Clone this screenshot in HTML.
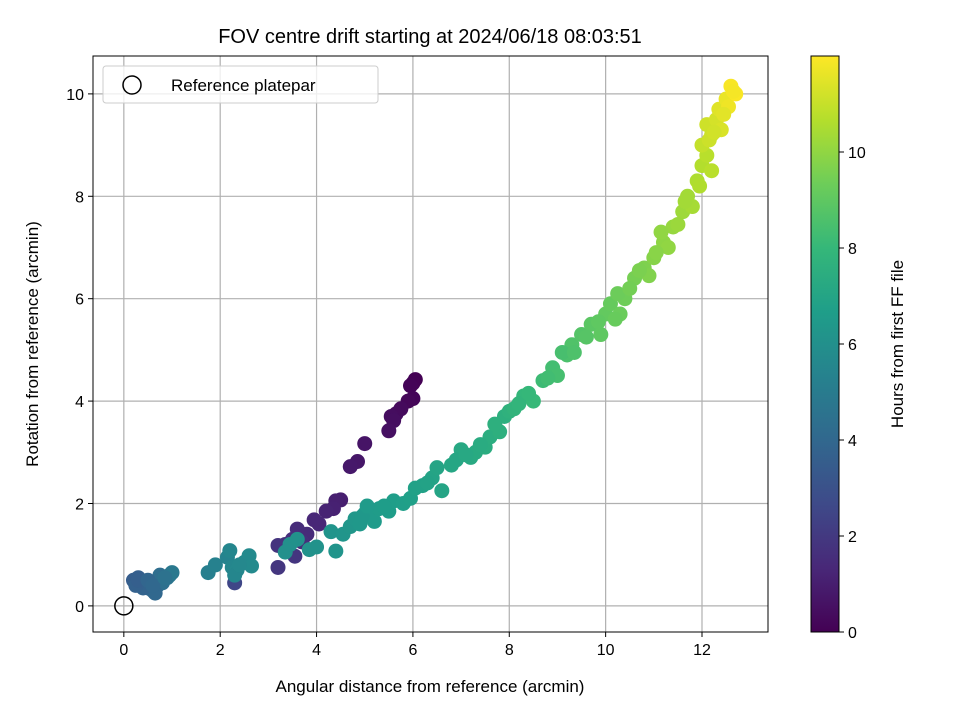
<!DOCTYPE html>
<html><head><meta charset="utf-8"><style>
body{margin:0;background:#fff}
svg text{font-family:"Liberation Sans","DejaVu Sans",sans-serif;fill:#000}
</style></head><body>
<svg id="chart" width="960" height="720" viewBox="0 0 960 720" xmlns="http://www.w3.org/2000/svg">
<defs><linearGradient id="vir" x1="0" y1="1" x2="0" y2="0"></linearGradient></defs>
<rect width="960" height="720" fill="#fff"/>
<text x="430" y="43" font-size="20" text-anchor="middle">FOV centre drift starting at 2024/06/18 08:03:51</text>
<g id="grid"></g>
<g id="points"></g>
<g id="axes"></g>
<text x="430" y="692" font-size="17" text-anchor="middle">Angular distance from reference (arcmin)</text>
<text transform="translate(38,344) rotate(-90)" font-size="17" text-anchor="middle">Rotation from reference (arcmin)</text>
<g>
<rect x="103" y="66" width="275" height="37" rx="3" fill="#fff" fill-opacity="0.8" stroke="#ccc"/>
<circle cx="132" cy="85" r="9" fill="none" stroke="#000" stroke-width="1.5"/>
<text x="171" y="91" font-size="17">Reference platepar</text>
</g>
<g id="cbar"></g>
<text transform="translate(903,344) rotate(-90)" font-size="17" text-anchor="middle">Hours from first FF file</text>
</svg>
<script>
const xs=[6.05,6.0,5.95,6.0,5.9,5.75,5.65,5.55,5.6,5.5,5.0,4.85,4.7,4.5,4.4,4.35,4.2,4.05,3.95,3.8,3.6,3.7,3.5,3.35,3.2,3.2,3.55,2.3,
0.2,0.3,0.35,0.45,0.5,0.6,0.55,0.7,0.75,0.8,0.9,0.95,1.0,0.65,0.4,0.25,0.3,0.5,0.6,0.85,
1.75,1.9,2.15,2.2,2.25,2.35,2.5,2.6,2.65,2.3,2.4,
3.35,3.45,3.6,3.85,4.0,4.3,4.4,4.55,4.7,4.8,4.9,5.0,5.1,5.2,5.3,5.5,5.6,5.8,5.95,6.05,6.2,6.4,6.5,6.6,6.8,7.0,7.2,7.3,7.5,7.6,7.8,7.9,8.0,8.1,8.3,8.5,8.7,8.9,9.0,9.2,9.3,9.5,9.7,9.9,10.0,10.1,10.3,10.4,10.6,10.8,10.9,11.0,11.2,11.3,11.4,11.6,11.7,11.8,11.9,12.0,12.1,12.2,12.0,12.1,12.3,12.35,12.5,12.6,12.7,12.2,12.4,12.55,
4.95,5.05,5.4,6.3,6.9,7.1,7.4,7.7,8.2,8.4,8.8,9.1,9.35,9.6,9.85,10.2,10.25,10.5,10.7,11.05,11.15,11.5,11.65,11.95,12.15,12.25,12.45,12.65];
const ys=[4.42,4.35,4.3,4.05,4.0,3.85,3.75,3.7,3.62,3.42,3.17,2.82,2.72,2.07,2.05,1.9,1.85,1.6,1.68,1.4,1.5,1.25,1.3,1.2,1.18,0.75,0.97,0.45,
0.5,0.55,0.45,0.4,0.35,0.3,0.45,0.4,0.6,0.45,0.55,0.6,0.65,0.25,0.35,0.4,0.5,0.5,0.4,0.55,
0.65,0.8,0.95,1.08,0.75,0.7,0.85,0.98,0.78,0.6,0.8,
1.05,1.2,1.3,1.1,1.15,1.45,1.07,1.4,1.55,1.7,1.6,1.8,1.75,1.65,1.9,1.85,2.05,2.0,2.1,2.3,2.35,2.5,2.7,2.25,2.75,3.05,2.9,3.0,3.1,3.3,3.4,3.7,3.8,3.85,4.1,4.0,4.4,4.65,4.5,4.9,5.1,5.3,5.5,5.3,5.7,5.9,5.7,6.0,6.4,6.6,6.45,6.8,7.1,7.0,7.4,7.7,8.0,7.8,8.3,8.6,8.8,8.5,9.0,9.4,9.5,9.7,9.9,10.15,10.0,9.2,9.3,9.75,
1.75,1.95,1.95,2.4,2.85,2.95,3.15,3.55,3.95,4.15,4.45,4.95,4.95,5.25,5.55,5.6,6.1,6.2,6.55,6.9,7.3,7.45,7.9,8.2,9.1,9.25,9.6,10.05];
const hours=[0.0,0.05,0.1,0.15,0.2,0.3,0.35,0.4,0.45,0.5,0.65,0.75,0.8,1.0,1.05,1.1,1.15,1.3,1.3,1.45,1.5,1.55,1.6,1.7,1.8,1.9,1.85,2.5,
3.5,3.6,3.7,3.8,3.9,4.0,4.1,4.2,4.3,4.4,4.6,4.7,4.8,4.0,3.8,3.7,3.6,3.9,4.0,4.5,
5.2,5.3,5.4,5.5,5.5,5.6,5.6,5.7,5.7,5.5,5.6,
6.0,6.0,6.05,6.1,6.1,6.2,6.2,6.25,6.3,6.35,6.4,6.45,6.5,6.5,6.55,6.6,6.65,6.7,6.75,6.8,6.85,6.95,7.0,7.0,7.1,7.2,7.25,7.3,7.4,7.45,7.55,7.6,7.7,7.8,7.95,8.05,8.2,8.35,8.4,8.55,8.65,8.75,8.9,9.0,9.1,9.15,9.25,9.35,9.5,9.65,9.7,9.8,9.95,10.0,10.1,10.25,10.35,10.4,10.55,10.65,10.75,10.75,10.95,11.15,11.25,11.45,11.65,11.9,11.95,11.05,11.35,11.75,
6.4,6.5,6.6,6.9,7.1,7.2,7.35,7.55,7.85,8.0,8.3,8.45,8.6,8.8,9.0,9.2,9.3,9.45,9.6,9.85,10.0,10.2,10.35,10.6,11.1,11.2,11.5,11.85];
const xTicks=[0,2,4,6,8,10,12];
const yTicks=[0,2,4,6,8,10];
const cTicks=[0,2,4,6,8,10];
const NS='http://www.w3.org/2000/svg';
const L=93,R=768,T=56,B=632;
const xMin=-0.64,xMax=13.37,yMin=-0.51,yMax=10.74,cMax=12.0;
const sx=v=>L+(v-xMin)/(xMax-xMin)*(R-L);
const sy=v=>B-(v-yMin)/(yMax-yMin)*(B-T);
const V=[[68,1,84],[72,40,120],[62,74,137],[49,104,142],[38,130,142],[31,158,137],[53,183,121],[109,205,89],[180,222,44],[253,231,37]];
function vir(t){t=Math.max(0,Math.min(1,t));const p=t*(V.length-1),i=Math.min(V.length-2,Math.floor(p)),f=p-i;
return 'rgb('+V[i].map((c,k)=>Math.round(c+(V[i+1][k]-c)*f)).join(',')+')';}
function mk(tag,at,par){const e=document.createElementNS(NS,tag);for(const k in at)e.setAttribute(k,at[k]);par.appendChild(e);return e;}
const grid=document.getElementById('grid'),axes=document.getElementById('axes'),pts=document.getElementById('points'),cb=document.getElementById('cbar');
xTicks.forEach(v=>{const x=sx(v);
const g=mk('line',{x1:x,x2:x,y1:T,y2:B,stroke:'#b0b0b0','stroke-width':1.2},grid);


mk('line',{x1:x,x2:x,y1:B,y2:B+5,stroke:'#000'},axes);
const t=mk('text',{x:x,y:B+23,'font-size':16,'text-anchor':'middle'},axes);t.textContent=v;

});
yTicks.forEach(v=>{const y=sy(v);
const g=mk('line',{x1:L,x2:R,y1:y,y2:y,stroke:'#b0b0b0','stroke-width':1.2},grid);


mk('line',{x1:L-5,x2:L,y1:y,y2:y,stroke:'#000'},axes);
const t=mk('text',{x:L-9,y:y+6,'font-size':16,'text-anchor':'end'},axes);t.textContent=v;

});
mk('rect',{x:L,y:T,width:R-L,height:B-T,fill:'none',stroke:'#000','stroke-width':1},axes);
xs.forEach((v,i)=>{const c=mk('circle',{cx:sx(v),cy:sy(ys[i]),r:7.5,fill:vir(hours[i]/cMax)},pts);

});
const ref=mk('circle',{cx:sx(0),cy:sy(0),r:9,fill:'none',stroke:'#000','stroke-width':1.5},pts);


const gr=document.getElementById('vir');
V.forEach((c,i)=>mk('stop',{offset:i/(V.length-1),'stop-color':'rgb('+c.join(',')+')'},gr));
const CL=811,CR=839;
mk('rect',{x:CL,y:T,width:CR-CL,height:B-T,fill:'url(#vir)',stroke:'#000','stroke-width':1},cb);
cTicks.forEach(v=>{const y=B-v/cMax*(B-T);
mk('line',{x1:CR,x2:CR+5,y1:y,y2:y,stroke:'#000'},cb);
const t=mk('text',{x:CR+9,y:y+6,'font-size':16},cb);t.textContent=v;

});
</script>
</body></html>
